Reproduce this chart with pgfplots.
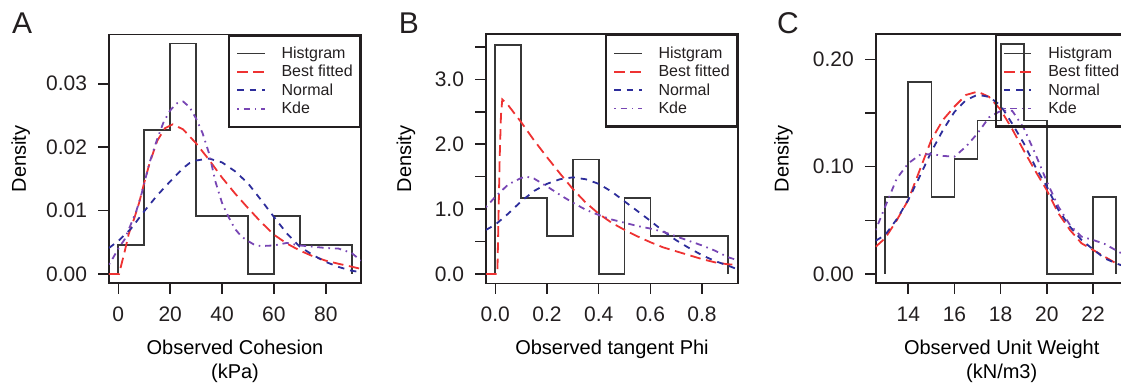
\documentclass[border=0pt]{standalone}
\usepackage{pgfplots}
\pgfplotsset{compat=1.18}
\usepackage{fontspec}
\setmainfont{Liberation Sans}
\definecolor{cred}{RGB}{238,50,50}
\definecolor{cblue}{RGB}{45,45,155}
\definecolor{cpurple}{RGB}{120,70,180}
\definecolor{chist}{RGB}{55,55,55}
\definecolor{caxis}{RGB}{35,31,32}
\pgfplotsset{
  panel/.style={
    scale only axis, width=126pt, height=124.5pt, anchor=south west,
    axis line style={line width=0.8pt, caxis},
    every tick/.style={line width=0.8pt, caxis},
    tick align=outside, major tick length=5.3pt,
    xtick pos=bottom, ytick pos=left,
    scaled ticks=false,
    /pgf/number format/assume math mode=true,
    tick label style={font=\fontsize{10.5}{12}\selectfont, text=caxis},
    yticklabel style={inner sep=0pt, xshift=-5.5pt},
    xticklabel style={inner sep=0pt, yshift=-6.4pt},
    label style={font=\fontsize{10.5}{12}\selectfont, text=caxis, inner sep=0pt},
    every axis x label/.style={at={(axis description cs:0.5,0)}, anchor=north, yshift=-25pt, align=center},
    legend cell align=left,
    legend style={at={(1,1)}, anchor=north east, draw=caxis, line width=1.1pt, fill=none,
      font=\fontsize{8}{9}\selectfont, inner xsep=3.6pt, inner ysep=5.2pt, row sep=1.6pt, column sep=0pt,
      cells={anchor=west},
      /tikz/every odd column/.style={column sep=0pt},
      /tikz/every even column/.style={column sep=0pt},
      nodes={inner sep=0pt, anchor=west, text height=6.3pt, text depth=1.3pt, text=caxis}},
    legend image code/.code={\draw[##1] (3.2pt,0pt) -- (16.9pt,0pt); \path (24.9pt,0pt);},
  },
  hist/.style={const plot mark left, line width=0.85pt, chist, no marks},
  bestfit/.style={line width=0.9pt, cred, dash pattern=on 5.3pt off 2.8pt, no marks},
  normal/.style={line width=0.9pt, cblue, dash pattern=on 3.2pt off 3.0pt, no marks},
  kde/.style={line width=0.9pt, cpurple, dash pattern=on 0.8pt off 2.4pt on 3.2pt off 2.4pt, no marks},
}
\begin{document}
\begin{tikzpicture}
% ---------------- Panel A ----------------
\begin{axis}[panel, at={(54.5pt,51.35pt)},
  xmin=-3.6, xmax=93.6, ymin=-0.00147, ymax=0.0378,
  xtick={0,20,40,60,80}, xticklabels={0,20,40,60,80},
  ytick={0,0.01,0.02,0.03}, yticklabels={0.00,0.01,0.02,0.03},
  xlabel={Observed Cohesion\\(kPa)}, ylabel={Density},
  every axis y label/.style={at={([xshift=-41.5pt]axis description cs:0,0.5)}, rotate=90, anchor=base},
  legend entries={Histgram,Best fitted,Normal,Kde}]
\addplot[hist] coordinates {(0,0) (0,0.004545) (10,0.02273) (20,0.03636) (30,0.00909) (40,0.00909) (50,0) (60,0.00909) (70,0.004545) (80,0.004545) (90,0)};
\addplot[bestfit] coordinates {(-3.6,0) (0.3,0) (1,0.0012) (2,0.0028) (3,0.0045) (4,0.0063) (6,0.0086) (8,0.0112) (10,0.0144) (12,0.0174) (15,0.0210) (18,0.0230) (21,0.0236) (25,0.0228) (30,0.0206) (35,0.0180) (40,0.0152) (45,0.0127) (50,0.0104) (55,0.0082) (60,0.0062) (65,0.0048) (70,0.0037) (75,0.0028) (80,0.0021) (85,0.0016) (90,0.00115) (93.6,0.0008)};
\addplot[normal] coordinates {(-3.6,0.0041) (0,0.0052) (5,0.0072) (10,0.0099) (15,0.0124) (20,0.0146) (25,0.0167) (27.5,0.0175) (30,0.0179) (35,0.0182) (40,0.0176) (45,0.0162) (50,0.0143) (55,0.0117) (60,0.0090) (65,0.0064) (70,0.0043) (75,0.0030) (80,0.0019) (85,0.0011) (90,0.0005) (93.6,0.0003)};
\addplot[kde] coordinates {(-3.6,0.0015) (-2.5,0.0022) (0,0.0040) (2.5,0.0055) (4.5,0.0075) (7,0.0100) (9,0.0127) (12,0.0175) (15,0.0213) (17.5,0.0240) (20,0.0258) (22.5,0.0269) (25,0.0272) (27.5,0.0263) (30,0.0245) (32.5,0.0222) (35,0.0190) (37.5,0.0145) (40,0.0112) (42.5,0.0090) (45,0.0071) (47.5,0.0059) (50,0.0052) (52.5,0.0046) (55,0.0044) (60,0.0045) (65,0.0049) (70,0.0045) (75,0.0043) (80,0.0041) (85,0.0040) (90,0.0033) (93.6,0.0021)};
\end{axis}
% ---------------- Panel B ----------------
\begin{axis}[panel, at={(243pt,51.35pt)},
  xmin=-0.036, xmax=0.939, ymin=-0.143, ymax=3.694,
  xtick={0,0.2,0.4,0.6,0.8}, xticklabels={0.0,0.2,0.4,0.6,0.8},
  ytick={0,0.5,1,1.5,2,2.5,3,3.5}, yticklabels={0.0,,1.0,,2.0,,3.0,},
  xlabel={Observed tangent Phi}, ylabel={Density},
  every axis y label/.style={at={([xshift=-37.5pt]axis description cs:0,0.5)}, rotate=90, anchor=base},
  legend entries={Histgram,Best fitted,Normal,Kde}]
\addplot[hist] coordinates {(0,0) (0,3.529) (0.1,1.176) (0.2,0.588) (0.3,1.765) (0.4,0) (0.5,1.176) (0.6,0.588) (0.7,0.588) (0.8,0.588) (0.9,0)};
\addplot[bestfit] coordinates {(-0.036,0) (0.008,0) (0.012,0.8) (0.017,1.8) (0.022,2.45) (0.027,2.69) (0.05,2.60) (0.1,2.34) (0.15,2.06) (0.2,1.80) (0.25,1.55) (0.3,1.31) (0.35,1.10) (0.4,0.93) (0.45,0.79) (0.5,0.68) (0.55,0.58) (0.6,0.49) (0.65,0.41) (0.7,0.35) (0.75,0.29) (0.8,0.23) (0.85,0.18) (0.9,0.15) (0.939,0.14)};
\addplot[normal] coordinates {(-0.036,0.68) (0,0.76) (0.05,0.93) (0.1,1.12) (0.15,1.28) (0.2,1.39) (0.25,1.46) (0.3,1.49) (0.35,1.46) (0.4,1.39) (0.45,1.27) (0.5,1.12) (0.55,0.97) (0.6,0.82) (0.65,0.66) (0.7,0.52) (0.75,0.40) (0.8,0.29) (0.85,0.20) (0.9,0.13) (0.939,0.07)};
\addplot[kde] coordinates {(-0.036,1.03) (0,1.19) (0.05,1.38) (0.1,1.48) (0.12,1.50) (0.15,1.47) (0.2,1.35) (0.25,1.22) (0.3,1.10) (0.35,0.99) (0.4,0.91) (0.45,0.84) (0.5,0.79) (0.55,0.74) (0.6,0.70) (0.65,0.65) (0.7,0.58) (0.75,0.51) (0.8,0.44) (0.85,0.36) (0.9,0.26) (0.939,0.21)};
\end{axis}
% ---------------- Panel C ----------------
\begin{axis}[panel, at={(437.85pt,51.35pt)},
  xmin=12.59, xmax=23.5, ymin=-0.00867, ymax=0.2233,
  xtick={14,16,18,20,22}, xticklabels={14,16,18,20,22},
  ytick={0,0.05,0.1,0.15,0.2}, yticklabels={0.00,,0.10,,0.20},
  xlabel={Observed Unit Weight\\(kN/m3)}, ylabel={Density},
  every axis y label/.style={at={([xshift=-43.5pt]axis description cs:0,0.5)}, rotate=90, anchor=base},
  legend entries={Histgram,Best fitted,Normal,Kde}]
\addplot[hist] coordinates {(13,0) (13,0.0714) (14,0.1786) (15,0.0714) (16,0.1071) (17,0.1429) (18,0.2143) (19,0.1429) (20,0) (21,0) (22,0.0714) (23,0)};
\addplot[bestfit] coordinates {(12.59,0.0254) (13,0.0333) (13.5,0.050) (14,0.069) (14.5,0.097) (15,0.125) (15.5,0.1435) (16,0.156) (16.5,0.1668) (17,0.1699) (17.5,0.165) (18,0.153) (18.5,0.135) (19,0.115) (19.5,0.096) (20,0.078) (20.5,0.0565) (21,0.041) (21.5,0.0286) (22,0.0224) (22.5,0.0161) (23,0.0099) (23.5,0.006)};
\addplot[normal] coordinates {(12.59,0.031) (13,0.0363) (13.5,0.051) (14,0.069) (14.5,0.091) (15,0.114) (15.5,0.134) (16,0.151) (16.5,0.162) (17,0.167) (17.5,0.165) (18,0.157) (18.5,0.140) (19,0.1218) (19.5,0.100) (20,0.0814) (20.5,0.0596) (21,0.0441) (21.5,0.0317) (22,0.023) (22.5,0.0146) (23,0.0099) (23.5,0.006)};
\addplot[kde] coordinates {(12.59,0.041) (13,0.0627) (13.5,0.0888) (14,0.1031) (14.5,0.1109) (15,0.1118) (15.5,0.110) (16,0.1093) (16.5,0.1187) (17,0.131) (17.5,0.146) (18,0.152) (18.5,0.152) (19,0.136) (19.5,0.112) (20,0.086) (20.5,0.0627) (21,0.0457) (21.5,0.0348) (22,0.0317) (22.5,0.028) (23,0.022) (23.5,0.016)};
\end{axis}
\node[anchor=base west, inner sep=0pt, font=\fontsize{15}{18}\selectfont, text=caxis] at (5.85pt,176.35pt) {A};
\node[anchor=base west, inner sep=0pt, font=\fontsize{15}{18}\selectfont, text=caxis] at (199.2pt,176.35pt) {B};
\node[anchor=base west, inner sep=0pt, font=\fontsize{15}{18}\selectfont, text=caxis] at (388.3pt,176.35pt) {C};
\pgfresetboundingbox
\path[use as bounding box] (0,0) rectangle (560.5pt,193pt);
\end{tikzpicture}
\end{document}
